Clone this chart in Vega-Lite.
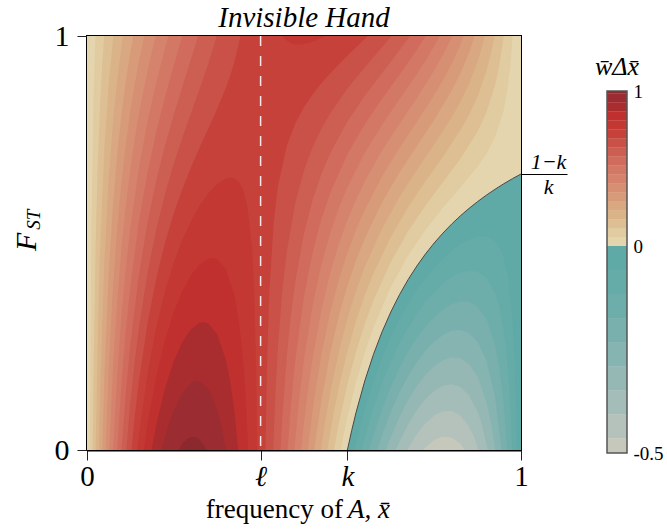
{
  "$schema": "https://vega.github.io/schema/vega-lite/v6.json",
  "padding": {"left": 11, "top": 3, "right": 0, "bottom": 0},
  "background": "white",
  "config": {
    "font": "Liberation Serif",
    "view": {"stroke": null},
    "axis": {"grid": false, "labelFont": "Liberation Serif", "titleFont": "Liberation Serif", "labelColor": "#000", "titleColor": "#000", "titleFontWeight": "normal", "zindex": 1},
    "title": {"font": "Liberation Serif", "fontWeight": "normal", "color": "#000"},
    "text": {"font": "Liberation Serif", "color": "#000"}
  },
  "datasets": {
    "series": [
      {"s":0,"v":0.029},{"s":1,"v":0.087},{"s":2,"v":0.145},{"s":3,"v":0.203},{"s":4,"v":0.261},{"s":5,"v":0.319},{"s":6,"v":0.377},{"s":7,"v":0.435},{"s":8,"v":0.493},{"s":9,"v":0.551},{"s":10,"v":0.609},{"s":11,"v":0.667},{"s":12,"v":0.725},{"s":13,"v":0.783},{"s":14,"v":0.783},{"s":15,"v":0.841},{"s":16,"v":0.899},{"s":17,"v":0.957},{"s":18,"v":0.993},{"s":19,"v":-0.029},{"s":20,"v":-0.087},{"s":21,"v":-0.145},{"s":22,"v":-0.203},{"s":23,"v":-0.261},{"s":24,"v":-0.319},{"s":25,"v":-0.377},{"s":26,"v":-0.435},{"s":27,"v":-0.482}
    ],
    "bands": [
      {"lo":-0.5,"hi":-0.464,"v":-0.482},{"lo":-0.464,"hi":-0.406,"v":-0.435},{"lo":-0.406,"hi":-0.348,"v":-0.377},{"lo":-0.348,"hi":-0.29,"v":-0.319},{"lo":-0.29,"hi":-0.232,"v":-0.261},{"lo":-0.232,"hi":-0.174,"v":-0.203},{"lo":-0.174,"hi":-0.116,"v":-0.145},{"lo":-0.116,"hi":-0.058,"v":-0.087},{"lo":-0.058,"hi":0,"v":-0.029},
      {"lo":0,"hi":0.058,"v":0.029},{"lo":0.058,"hi":0.116,"v":0.087},{"lo":0.116,"hi":0.174,"v":0.145},{"lo":0.174,"hi":0.232,"v":0.203},{"lo":0.232,"hi":0.29,"v":0.261},{"lo":0.29,"hi":0.348,"v":0.319},{"lo":0.348,"hi":0.406,"v":0.377},{"lo":0.406,"hi":0.464,"v":0.435},{"lo":0.464,"hi":0.522,"v":0.493},{"lo":0.522,"hi":0.58,"v":0.551},{"lo":0.58,"hi":0.638,"v":0.609},{"lo":0.638,"hi":0.696,"v":0.667},{"lo":0.696,"hi":0.754,"v":0.725},{"lo":0.754,"hi":0.812,"v":0.783},{"lo":0.812,"hi":0.87,"v":0.841},{"lo":0.87,"hi":0.928,"v":0.899},{"lo":0.928,"hi":0.986,"v":0.957},{"lo":0.986,"hi":1,"v":0.993}
    ],
    "contours": [
      {"s":0,"x":0,"y":0,"y2":1},{"s":0,"x":1,"y":0,"y2":1},

      {"s":1,"x":0.0065,"y":0,"y2":0},{"s":1,"x":0.01,"y":0,"y2":0.5263},{"s":1,"x":0.015,"y":0,"y2":0.8499},{"s":1,"x":0.0194,"y":0,"y2":1},{"s":1,"x":0.5843,"y":0,"y2":1},{"s":1,"x":0.59,"y":0.0302,"y2":1},{"s":1,"x":0.6,"y":0.0794,"y2":1},{"s":1,"x":0.62,"y":0.1644,"y2":1},{"s":1,"x":0.64,"y":0.2355,"y2":1},{"s":1,"x":0.66,"y":0.2961,"y2":1},{"s":1,"x":0.7,"y":0.3938,"y2":1},{"s":1,"x":0.74,"y":0.47,"y2":1},{"s":1,"x":0.78,"y":0.5321,"y2":1},{"s":1,"x":0.82,"y":0.5852,"y2":1},{"s":1,"x":0.86,"y":0.634,"y2":1},{"s":1,"x":0.9,"y":0.6846,"y2":1},{"s":1,"x":0.92,"y":0.7149,"y2":1},{"s":1,"x":0.94,"y":0.7547,"y2":1},{"s":1,"x":0.96,"y":0.82,"y2":1},{"s":1,"x":0.97,"y":0.8788,"y2":1},{"s":1,"x":0.975,"y":0.9239,"y2":1},{"s":1,"x":0.98,"y":0.9902,"y2":1},{"s":1,"x":0.9806,"y":1,"y2":1},

      {"s":2,"x":0.0132,"y":0,"y2":0},{"s":2,"x":0.015,"y":0,"y2":0.1803},{"s":2,"x":0.02,"y":0,"y2":0.5035},{"s":2,"x":0.025,"y":0,"y2":0.6999},{"s":2,"x":0.03,"y":0,"y2":0.833},{"s":2,"x":0.035,"y":0,"y2":0.93},{"s":2,"x":0.0397,"y":0,"y2":1},{"s":2,"x":0.569,"y":0,"y2":1},{"s":2,"x":0.57,"y":0.0064,"y2":1},{"s":2,"x":0.58,"y":0.0626,"y2":1},{"s":2,"x":0.6,"y":0.1587,"y2":1},{"s":2,"x":0.62,"y":0.2379,"y2":1},{"s":2,"x":0.64,"y":0.3044,"y2":1},{"s":2,"x":0.66,"y":0.3613,"y2":1},{"s":2,"x":0.7,"y":0.4542,"y2":1},{"s":2,"x":0.74,"y":0.5282,"y2":1},{"s":2,"x":0.78,"y":0.5905,"y2":1},{"s":2,"x":0.82,"y":0.6467,"y2":1},{"s":2,"x":0.86,"y":0.7028,"y2":1},{"s":2,"x":0.9,"y":0.7693,"y2":1},{"s":2,"x":0.92,"y":0.8144,"y2":1},{"s":2,"x":0.94,"y":0.8798,"y2":1},{"s":2,"x":0.95,"y":0.928,"y2":1},{"s":2,"x":0.9603,"y":1,"y2":1},

      {"s":3,"x":0.0201,"y":0,"y2":0},{"s":3,"x":0.025,"y":0,"y2":0.2832},{"s":3,"x":0.03,"y":0,"y2":0.4793},{"s":3,"x":0.04,"y":0,"y2":0.729},{"s":3,"x":0.05,"y":0,"y2":0.8841},{"s":3,"x":0.06,"y":0,"y2":0.9923},{"s":3,"x":0.0608,"y":0,"y2":1},{"s":3,"x":0.5538,"y":0,"y2":1},{"s":3,"x":0.56,"y":0.0398,"y2":1},{"s":3,"x":0.57,"y":0.0978,"y2":1},{"s":3,"x":0.58,"y":0.1495,"y2":1},{"s":3,"x":0.6,"y":0.2381,"y2":1},{"s":3,"x":0.62,"y":0.3114,"y2":1},{"s":3,"x":0.64,"y":0.3733,"y2":1},{"s":3,"x":0.66,"y":0.4266,"y2":1},{"s":3,"x":0.7,"y":0.5147,"y2":1},{"s":3,"x":0.74,"y":0.5864,"y2":1},{"s":3,"x":0.78,"y":0.6489,"y2":1},{"s":3,"x":0.82,"y":0.7081,"y2":1},{"s":3,"x":0.86,"y":0.7715,"y2":1},{"s":3,"x":0.88,"y":0.8088,"y2":1},{"s":3,"x":0.9,"y":0.8539,"y2":1},{"s":3,"x":0.92,"y":0.914,"y2":1},{"s":3,"x":0.93,"y":0.9538,"y2":1},{"s":3,"x":0.9392,"y":1,"y2":1},

      {"s":4,"x":0.0274,"y":0,"y2":0},{"s":4,"x":0.03,"y":0,"y2":0.1255},{"s":4,"x":0.04,"y":0,"y2":0.4534},{"s":4,"x":0.05,"y":0,"y2":0.655},{"s":4,"x":0.06,"y":0,"y2":0.7937},{"s":4,"x":0.07,"y":0,"y2":0.8969},{"s":4,"x":0.08,"y":0,"y2":0.9781},{"s":4,"x":0.0831,"y":0,"y2":1},{"s":4,"x":0.5387,"y":0,"y2":1},{"s":4,"x":0.54,"y":0.0095,"y2":1},{"s":4,"x":0.55,"y":0.0771,"y2":1},{"s":4,"x":0.56,"y":0.1365,"y2":1},{"s":4,"x":0.58,"y":0.2364,"y2":1},{"s":4,"x":0.6,"y":0.3174,"y2":1},{"s":4,"x":0.62,"y":0.3849,"y2":1},{"s":4,"x":0.64,"y":0.4422,"y2":1},{"s":4,"x":0.68,"y":0.5358,"y2":1},{"s":4,"x":0.72,"y":0.6112,"y2":1},{"s":4,"x":0.76,"y":0.6765,"y2":1},{"s":4,"x":0.8,"y":0.7381,"y2":1},{"s":4,"x":0.84,"y":0.8031,"y2":1},{"s":4,"x":0.86,"y":0.8403,"y2":1},{"s":4,"x":0.88,"y":0.8839,"y2":1},{"s":4,"x":0.9,"y":0.9386,"y2":1},{"s":4,"x":0.91,"y":0.9726,"y2":1},{"s":4,"x":0.9169,"y":1,"y2":1},

      {"s":5,"x":0.035,"y":0,"y2":0},{"s":5,"x":0.04,"y":0,"y2":0.1779},{"s":5,"x":0.05,"y":0,"y2":0.4259},{"s":5,"x":0.06,"y":0,"y2":0.5951},{"s":5,"x":0.07,"y":0,"y2":0.7196},{"s":5,"x":0.08,"y":0,"y2":0.8164},{"s":5,"x":0.09,"y":0,"y2":0.8951},{"s":5,"x":0.1,"y":0,"y2":0.9613},{"s":5,"x":0.1066,"y":0,"y2":1},{"s":5,"x":0.5237,"y":0,"y2":1},{"s":5,"x":0.53,"y":0.0496,"y2":1},{"s":5,"x":0.54,"y":0.1191,"y2":1},{"s":5,"x":0.56,"y":0.2331,"y2":1},{"s":5,"x":0.58,"y":0.3232,"y2":1},{"s":5,"x":0.6,"y":0.3968,"y2":1},{"s":5,"x":0.62,"y":0.4583,"y2":1},{"s":5,"x":0.64,"y":0.5111,"y2":1},{"s":5,"x":0.68,"y":0.5983,"y2":1},{"s":5,"x":0.72,"y":0.6702,"y2":1},{"s":5,"x":0.76,"y":0.7345,"y2":1},{"s":5,"x":0.8,"y":0.7976,"y2":1},{"s":5,"x":0.84,"y":0.8675,"y2":1},{"s":5,"x":0.86,"y":0.9091,"y2":1},{"s":5,"x":0.88,"y":0.959,"y2":1},{"s":5,"x":0.8934,"y":1,"y2":1},

      {"s":6,"x":0.0429,"y":0,"y2":0},{"s":6,"x":0.05,"y":0,"y2":0.1968},{"s":6,"x":0.06,"y":0,"y2":0.3965},{"s":6,"x":0.07,"y":0,"y2":0.5423},{"s":6,"x":0.08,"y":0,"y2":0.6547},{"s":6,"x":0.09,"y":0,"y2":0.745},{"s":6,"x":0.1,"y":0,"y2":0.8202},{"s":6,"x":0.11,"y":0,"y2":0.8847},{"s":6,"x":0.12,"y":0,"y2":0.9414},{"s":6,"x":0.13,"y":0,"y2":0.9924},{"s":6,"x":0.1316,"y":0,"y2":1},{"s":6,"x":0.5086,"y":0,"y2":1},{"s":6,"x":0.52,"y":0.0963,"y2":1},{"s":6,"x":0.53,"y":0.1673,"y2":1},{"s":6,"x":0.54,"y":0.2286,"y2":1},{"s":6,"x":0.56,"y":0.3297,"y2":1},{"s":6,"x":0.58,"y":0.4101,"y2":1},{"s":6,"x":0.6,"y":0.4761,"y2":1},{"s":6,"x":0.62,"y":0.5318,"y2":1},{"s":6,"x":0.64,"y":0.58,"y2":1},{"s":6,"x":0.68,"y":0.6608,"y2":1},{"s":6,"x":0.72,"y":0.7293,"y2":1},{"s":6,"x":0.76,"y":0.7925,"y2":1},{"s":6,"x":0.8,"y":0.8571,"y2":1},{"s":6,"x":0.82,"y":0.8925,"y2":1},{"s":6,"x":0.84,"y":0.9319,"y2":1},{"s":6,"x":0.86,"y":0.9778,"y2":1},{"s":6,"x":0.8684,"y":1,"y2":1},

      {"s":7,"x":0.0512,"y":0,"y2":0},{"s":7,"x":0.06,"y":0,"y2":0.1978},{"s":7,"x":0.07,"y":0,"y2":0.365},{"s":7,"x":0.08,"y":0,"y2":0.4929},{"s":7,"x":0.09,"y":0,"y2":0.595},{"s":7,"x":0.1,"y":0,"y2":0.6792},{"s":7,"x":0.11,"y":0,"y2":0.7505},{"s":7,"x":0.12,"y":0,"y2":0.8126},{"s":7,"x":0.13,"y":0,"y2":0.8676},{"s":7,"x":0.14,"y":0,"y2":0.9175},{"s":7,"x":0.15,"y":0,"y2":0.9635},{"s":7,"x":0.1584,"y":0,"y2":1},{"s":7,"x":0.4933,"y":0,"y2":1},{"s":7,"x":0.5,"y":0.0665,"y2":1},{"s":7,"x":0.51,"y":0.1518,"y2":1},{"s":7,"x":0.52,"y":0.2235,"y2":1},{"s":7,"x":0.54,"y":0.3381,"y2":1},{"s":7,"x":0.56,"y":0.4263,"y2":1},{"s":7,"x":0.58,"y":0.497,"y2":1},{"s":7,"x":0.6,"y":0.5555,"y2":1},{"s":7,"x":0.62,"y":0.6053,"y2":1},{"s":7,"x":0.64,"y":0.6488,"y2":1},{"s":7,"x":0.68,"y":0.7233,"y2":1},{"s":7,"x":0.72,"y":0.7883,"y2":1},{"s":7,"x":0.76,"y":0.8505,"y2":1},{"s":7,"x":0.8,"y":0.9166,"y2":1},{"s":7,"x":0.82,"y":0.9539,"y2":1},{"s":7,"x":0.84,"y":0.9963,"y2":1},{"s":7,"x":0.8416,"y":1,"y2":1},

      {"s":8,"x":0.06,"y":0,"y2":0},{"s":8,"x":0.07,"y":0,"y2":0.1877},{"s":8,"x":0.08,"y":0,"y2":0.3312},{"s":8,"x":0.09,"y":0,"y2":0.445},{"s":8,"x":0.1,"y":0,"y2":0.5381},{"s":8,"x":0.12,"y":0,"y2":0.6837},{"s":8,"x":0.14,"y":0,"y2":0.7958},{"s":8,"x":0.16,"y":0,"y2":0.8887},{"s":8,"x":0.17,"y":0,"y2":0.9306},{"s":8,"x":0.18,"y":0,"y2":0.9707},{"s":8,"x":0.1875,"y":0,"y2":1},{"s":8,"x":0.4779,"y":0,"y2":1},{"s":8,"x":0.48,"y":0.026,"y2":1},{"s":8,"x":0.49,"y":0.1326,"y2":1},{"s":8,"x":0.5,"y":0.2189,"y2":1},{"s":8,"x":0.52,"y":0.3507,"y2":1},{"s":8,"x":0.54,"y":0.4476,"y2":1},{"s":8,"x":0.56,"y":0.5229,"y2":1},{"s":8,"x":0.58,"y":0.5838,"y2":1},{"s":8,"x":0.6,"y":0.6348,"y2":1},{"s":8,"x":0.64,"y":0.7177,"y2":1},{"s":8,"x":0.68,"y":0.7858,"y2":1},{"s":8,"x":0.72,"y":0.8473,"y2":1},{"s":8,"x":0.76,"y":0.9085,"y2":1},{"s":8,"x":0.78,"y":0.941,"y2":1},{"s":8,"x":0.8,"y":0.9761,"y2":1},{"s":8,"x":0.8125,"y":1,"y2":1},

      {"s":9,"x":0.0695,"y":0,"y2":0},{"s":9,"x":0.08,"y":0,"y2":0.1695},{"s":9,"x":0.09,"y":0,"y2":0.295},{"s":9,"x":0.1,"y":0,"y2":0.397},{"s":9,"x":0.12,"y":0,"y2":0.5549},{"s":9,"x":0.14,"y":0,"y2":0.6742},{"s":9,"x":0.16,"y":0,"y2":0.7706},{"s":9,"x":0.18,"y":0,"y2":0.8534},{"s":9,"x":0.2,"y":0,"y2":0.9287},{"s":9,"x":0.21,"y":0,"y2":0.9651},{"s":9,"x":0.2196,"y":0,"y2":1},{"s":9,"x":0.4621,"y":0,"y2":1},{"s":9,"x":0.47,"y":0.1088,"y2":1},{"s":9,"x":0.48,"y":0.2168,"y2":1},{"s":9,"x":0.5,"y":0.3712,"y2":1},{"s":9,"x":0.52,"y":0.4778,"y2":1},{"s":9,"x":0.54,"y":0.5572,"y2":1},{"s":9,"x":0.56,"y":0.6195,"y2":1},{"s":9,"x":0.6,"y":0.7142,"y2":1},{"s":9,"x":0.64,"y":0.7866,"y2":1},{"s":9,"x":0.68,"y":0.8483,"y2":1},{"s":9,"x":0.72,"y":0.9064,"y2":1},{"s":9,"x":0.74,"y":0.9358,"y2":1},{"s":9,"x":0.76,"y":0.9665,"y2":1},{"s":9,"x":0.78,"y":0.9994,"y2":1},{"s":9,"x":0.7804,"y":1,"y2":1},

      {"s":10,"x":0.0795,"y":0,"y2":0},{"s":10,"x":0.08,"y":0,"y2":0.0078},{"s":10,"x":0.09,"y":0,"y2":0.1449},{"s":10,"x":0.1,"y":0,"y2":0.256},{"s":10,"x":0.12,"y":0,"y2":0.4261},{"s":10,"x":0.14,"y":0,"y2":0.5525},{"s":10,"x":0.16,"y":0,"y2":0.6525},{"s":10,"x":0.18,"y":0,"y2":0.7361},{"s":10,"x":0.2,"y":0,"y2":0.8097},{"s":10,"x":0.22,"y":0,"y2":0.878},{"s":10,"x":0.24,"y":0,"y2":0.9449},{"s":10,"x":0.25,"y":0,"y2":0.9791},{"s":10,"x":0.256,"y":0,"y2":1},{"s":10,"x":0.4458,"y":0,"y2":1},{"s":10,"x":0.45,"y":0.0779,"y2":1},{"s":10,"x":0.46,"y":0.2223,"y2":1},{"s":10,"x":0.47,"y":0.3273,"y2":1},{"s":10,"x":0.48,"y":0.4075,"y2":1},{"s":10,"x":0.5,"y":0.5236,"y2":1},{"s":10,"x":0.52,"y":0.605,"y2":1},{"s":10,"x":0.54,"y":0.6667,"y2":1},{"s":10,"x":0.56,"y":0.7162,"y2":1},{"s":10,"x":0.6,"y":0.7935,"y2":1},{"s":10,"x":0.64,"y":0.8555,"y2":1},{"s":10,"x":0.68,"y":0.9109,"y2":1},{"s":10,"x":0.7,"y":0.9379,"y2":1},{"s":10,"x":0.72,"y":0.9654,"y2":1},{"s":10,"x":0.74,"y":0.994,"y2":1},{"s":10,"x":0.744,"y":1,"y2":1},

      {"s":11,"x":0.0904,"y":0,"y2":0},{"s":11,"x":0.1,"y":0,"y2":0.1149},{"s":11,"x":0.11,"y":0,"y2":0.2139},{"s":11,"x":0.12,"y":0,"y2":0.2973},{"s":11,"x":0.14,"y":0,"y2":0.4308},{"s":11,"x":0.16,"y":0,"y2":0.5344},{"s":11,"x":0.18,"y":0,"y2":0.6188},{"s":11,"x":0.2,"y":0,"y2":0.6907},{"s":11,"x":0.22,"y":0,"y2":0.7547},{"s":11,"x":0.24,"y":0,"y2":0.8143},{"s":11,"x":0.26,"y":0,"y2":0.8731},{"s":11,"x":0.28,"y":0,"y2":0.9348},{"s":11,"x":0.29,"y":0,"y2":0.9683},{"s":11,"x":0.2987,"y":0,"y2":1},{"s":11,"x":0.4289,"y":0,"y2":1},{"s":11,"x":0.435,"y":0.1564,"y2":1},{"s":11,"x":0.44,"y":0.251,"y2":1},{"s":11,"x":0.45,"y":0.3857,"y2":1},{"s":11,"x":0.46,"y":0.4779,"y2":1},{"s":11,"x":0.48,"y":0.5983,"y2":1},{"s":11,"x":0.5,"y":0.6759,"y2":1},{"s":11,"x":0.52,"y":0.7322,"y2":1},{"s":11,"x":0.54,"y":0.7762,"y2":1},{"s":11,"x":0.56,"y":0.8128,"y2":1},{"s":11,"x":0.6,"y":0.8729,"y2":1},{"s":11,"x":0.64,"y":0.9244,"y2":1},{"s":11,"x":0.68,"y":0.9734,"y2":1},{"s":11,"x":0.7,"y":0.9984,"y2":1},{"s":11,"x":0.7013,"y":1,"y2":1},

      {"s":12,"x":0.1024,"y":0,"y2":0},{"s":12,"x":0.11,"y":0,"y2":0.0797},{"s":12,"x":0.12,"y":0,"y2":0.1685},{"s":12,"x":0.14,"y":0,"y2":0.3091},{"s":12,"x":0.16,"y":0,"y2":0.4163},{"s":12,"x":0.18,"y":0,"y2":0.5015},{"s":12,"x":0.2,"y":0,"y2":0.5717},{"s":12,"x":0.22,"y":0,"y2":0.6313},{"s":12,"x":0.24,"y":0,"y2":0.6838},{"s":12,"x":0.26,"y":0,"y2":0.7317},{"s":12,"x":0.28,"y":0,"y2":0.7773},{"s":12,"x":0.3,"y":0,"y2":0.8235},{"s":12,"x":0.32,"y":0,"y2":0.8744},{"s":12,"x":0.33,"y":0,"y2":0.9039},{"s":12,"x":0.34,"y":0,"y2":0.9386},{"s":12,"x":0.35,"y":0,"y2":0.9818},{"s":12,"x":0.3535,"y":0,"y2":1},{"s":12,"x":0.4112,"y":0,"y2":1},{"s":12,"x":0.415,"y":0.218,"y2":1},{"s":12,"x":0.42,"y":0.3816,"y2":1},{"s":12,"x":0.43,"y":0.5494,"y2":1},{"s":12,"x":0.44,"y":0.6375,"y2":1},{"s":12,"x":0.46,"y":0.7334,"y2":1},{"s":12,"x":0.48,"y":0.789,"y2":1},{"s":12,"x":0.5,"y":0.8283,"y2":1},{"s":12,"x":0.52,"y":0.8593,"y2":1},{"s":12,"x":0.54,"y":0.8858,"y2":1},{"s":12,"x":0.56,"y":0.9094,"y2":1},{"s":12,"x":0.58,"y":0.9313,"y2":1},{"s":12,"x":0.6,"y":0.9522,"y2":1},{"s":12,"x":0.62,"y":0.9727,"y2":1},{"s":12,"x":0.64,"y":0.9933,"y2":1},{"s":12,"x":0.6465,"y":1,"y2":1},

      {"s":13,"x":0.1157,"y":0,"y2":0},{"s":13,"x":0.12,"y":0,"y2":0.0396},{"s":13,"x":0.14,"y":0,"y2":0.1875},{"s":13,"x":0.16,"y":0,"y2":0.2982},{"s":13,"x":0.18,"y":0,"y2":0.3842},{"s":13,"x":0.2,"y":0,"y2":0.4526},{"s":13,"x":0.22,"y":0,"y2":0.508},{"s":13,"x":0.24,"y":0,"y2":0.5533},{"s":13,"x":0.26,"y":0,"y2":0.5903},{"s":13,"x":0.28,"y":0,"y2":0.6199},{"s":13,"x":0.3,"y":0,"y2":0.6421},{"s":13,"x":0.32,"y":0,"y2":0.6556},{"s":13,"x":0.33,"y":0,"y2":0.6578},{"s":13,"x":0.34,"y":0,"y2":0.6557},{"s":13,"x":0.35,"y":0,"y2":0.6469},{"s":13,"x":0.36,"y":0,"y2":0.6272},{"s":13,"x":0.37,"y":0,"y2":0.5859},{"s":13,"x":0.38,"y":0,"y2":0.4915},{"s":13,"x":0.385,"y":0,"y2":0.3916},{"s":13,"x":0.39,"y":0,"y2":0.1862},{"s":13,"x":0.3923,"y":0,"y2":0},

      {"s":14,"x":0.4508,"y":1,"y2":1},{"s":14,"x":0.455,"y":0.9942,"y2":1},{"s":14,"x":0.46,"y":0.989,"y2":1},{"s":14,"x":0.47,"y":0.9826,"y2":1},{"s":14,"x":0.48,"y":0.9798,"y2":1},{"s":14,"x":0.49,"y":0.9794,"y2":1},{"s":14,"x":0.5,"y":0.9807,"y2":1},{"s":14,"x":0.51,"y":0.9831,"y2":1},{"s":14,"x":0.52,"y":0.9865,"y2":1},{"s":14,"x":0.53,"y":0.9906,"y2":1},{"s":14,"x":0.54,"y":0.9953,"y2":1},{"s":14,"x":0.5492,"y":1,"y2":1},

      {"s":15,"x":0.1308,"y":0,"y2":0},{"s":15,"x":0.14,"y":0,"y2":0.0658},{"s":15,"x":0.16,"y":0,"y2":0.1802},{"s":15,"x":0.18,"y":0,"y2":0.2669},{"s":15,"x":0.2,"y":0,"y2":0.3336},{"s":15,"x":0.22,"y":0,"y2":0.3847},{"s":15,"x":0.24,"y":0,"y2":0.4228},{"s":15,"x":0.26,"y":0,"y2":0.4489},{"s":15,"x":0.28,"y":0,"y2":0.4624},{"s":15,"x":0.29,"y":0,"y2":0.4638},{"s":15,"x":0.3,"y":0,"y2":0.4607},{"s":15,"x":0.32,"y":0,"y2":0.4368},{"s":15,"x":0.34,"y":0,"y2":0.3728},{"s":15,"x":0.35,"y":0,"y2":0.3121},{"s":15,"x":0.36,"y":0,"y2":0.2139},{"s":15,"x":0.365,"y":0,"y2":0.1408},{"s":15,"x":0.3717,"y":0,"y2":0},

      {"s":16,"x":0.1488,"y":0,"y2":0},{"s":16,"x":0.16,"y":0,"y2":0.0621},{"s":16,"x":0.18,"y":0,"y2":0.1496},{"s":16,"x":0.2,"y":0,"y2":0.2146},{"s":16,"x":0.22,"y":0,"y2":0.2614},{"s":16,"x":0.24,"y":0,"y2":0.2923},{"s":16,"x":0.26,"y":0,"y2":0.3075},{"s":16,"x":0.27,"y":0,"y2":0.3087},{"s":16,"x":0.28,"y":0,"y2":0.305},{"s":16,"x":0.3,"y":0,"y2":0.2793},{"s":16,"x":0.32,"y":0,"y2":0.218},{"s":16,"x":0.33,"y":0,"y2":0.1656},{"s":16,"x":0.34,"y":0,"y2":0.0899},{"s":16,"x":0.3482,"y":0,"y2":0},

      {"s":17,"x":0.1718,"y":0,"y2":0},{"s":17,"x":0.18,"y":0,"y2":0.0323},{"s":17,"x":0.19,"y":0,"y2":0.0667},{"s":17,"x":0.2,"y":0,"y2":0.0955},{"s":17,"x":0.22,"y":0,"y2":0.1381},{"s":17,"x":0.24,"y":0,"y2":0.1618},{"s":17,"x":0.25,"y":0,"y2":0.1665},{"s":17,"x":0.26,"y":0,"y2":0.1661},{"s":17,"x":0.28,"y":0,"y2":0.1475},{"s":17,"x":0.3,"y":0,"y2":0.098},{"s":17,"x":0.31,"y":0,"y2":0.0565},{"s":17,"x":0.3199,"y":0,"y2":0},

      {"s":18,"x":0.211,"y":0,"y2":0},{"s":18,"x":0.22,"y":0,"y2":0.0148},{"s":18,"x":0.23,"y":0,"y2":0.0258},{"s":18,"x":0.24,"y":0,"y2":0.0313},{"s":18,"x":0.25,"y":0,"y2":0.0311},{"s":18,"x":0.26,"y":0,"y2":0.0247},{"s":18,"x":0.27,"y":0,"y2":0.0114},{"s":18,"x":0.2754,"y":0,"y2":0},

      {"s":19,"x":0.6,"y":0,"y2":0},{"s":19,"x":0.61,"y":0,"y2":0.0476},{"s":19,"x":0.62,"y":0,"y2":0.0909},{"s":19,"x":0.64,"y":0,"y2":0.1667},{"s":19,"x":0.66,"y":0,"y2":0.2308},{"s":19,"x":0.68,"y":0,"y2":0.2857},{"s":19,"x":0.7,"y":0,"y2":0.3333},{"s":19,"x":0.72,"y":0,"y2":0.375},{"s":19,"x":0.74,"y":0,"y2":0.4118},{"s":19,"x":0.76,"y":0,"y2":0.4444},{"s":19,"x":0.78,"y":0,"y2":0.4737},{"s":19,"x":0.8,"y":0,"y2":0.5},{"s":19,"x":0.82,"y":0,"y2":0.5238},{"s":19,"x":0.84,"y":0,"y2":0.5455},{"s":19,"x":0.86,"y":0,"y2":0.5652},{"s":19,"x":0.88,"y":0,"y2":0.5833},{"s":19,"x":0.9,"y":0,"y2":0.6},{"s":19,"x":0.92,"y":0,"y2":0.6154},{"s":19,"x":0.94,"y":0,"y2":0.6296},{"s":19,"x":0.96,"y":0,"y2":0.6429},{"s":19,"x":0.98,"y":0,"y2":0.6552},{"s":19,"x":1,"y":0,"y2":0.6667},

      {"s":20,"x":0.6161,"y":0,"y2":0},{"s":20,"x":0.62,"y":0,"y2":0.0174},{"s":20,"x":0.64,"y":0,"y2":0.0978},{"s":20,"x":0.66,"y":0,"y2":0.1655},{"s":20,"x":0.68,"y":0,"y2":0.2232},{"s":20,"x":0.7,"y":0,"y2":0.2729},{"s":20,"x":0.72,"y":0,"y2":0.316},{"s":20,"x":0.74,"y":0,"y2":0.3535},{"s":20,"x":0.76,"y":0,"y2":0.3864},{"s":20,"x":0.78,"y":0,"y2":0.4153},{"s":20,"x":0.8,"y":0,"y2":0.4405},{"s":20,"x":0.82,"y":0,"y2":0.4624},{"s":20,"x":0.84,"y":0,"y2":0.481},{"s":20,"x":0.86,"y":0,"y2":0.4964},{"s":20,"x":0.88,"y":0,"y2":0.5082},{"s":20,"x":0.9,"y":0,"y2":0.5154},{"s":20,"x":0.92,"y":0,"y2":0.5159},{"s":20,"x":0.94,"y":0,"y2":0.5046},{"s":20,"x":0.95,"y":0,"y2":0.4906},{"s":20,"x":0.96,"y":0,"y2":0.4657},{"s":20,"x":0.97,"y":0,"y2":0.4195},{"s":20,"x":0.98,"y":0,"y2":0.3201},{"s":20,"x":0.985,"y":0,"y2":0.2174},{"s":20,"x":0.988,"y":0,"y2":0.1135},{"s":20,"x":0.9901,"y":0,"y2":0},

      {"s":21,"x":0.6328,"y":0,"y2":0},{"s":21,"x":0.64,"y":0,"y2":0.0289},{"s":21,"x":0.66,"y":0,"y2":0.1002},{"s":21,"x":0.68,"y":0,"y2":0.1607},{"s":21,"x":0.7,"y":0,"y2":0.2124},{"s":21,"x":0.72,"y":0,"y2":0.2569},{"s":21,"x":0.74,"y":0,"y2":0.2953},{"s":21,"x":0.76,"y":0,"y2":0.3284},{"s":21,"x":0.78,"y":0,"y2":0.3569},{"s":21,"x":0.8,"y":0,"y2":0.381},{"s":21,"x":0.82,"y":0,"y2":0.4009},{"s":21,"x":0.84,"y":0,"y2":0.4166},{"s":21,"x":0.86,"y":0,"y2":0.4277},{"s":21,"x":0.88,"y":0,"y2":0.433},{"s":21,"x":0.9,"y":0,"y2":0.4307},{"s":21,"x":0.92,"y":0,"y2":0.4163},{"s":21,"x":0.94,"y":0,"y2":0.3795},{"s":21,"x":0.95,"y":0,"y2":0.3448},{"s":21,"x":0.96,"y":0,"y2":0.2886},{"s":21,"x":0.97,"y":0,"y2":0.1899},{"s":21,"x":0.975,"y":0,"y2":0.1087},{"s":21,"x":0.9795,"y":0,"y2":0},

      {"s":22,"x":0.6503,"y":0,"y2":0},{"s":22,"x":0.66,"y":0,"y2":0.0349},{"s":22,"x":0.68,"y":0,"y2":0.0982},{"s":22,"x":0.7,"y":0,"y2":0.152},{"s":22,"x":0.72,"y":0,"y2":0.1979},{"s":22,"x":0.74,"y":0,"y2":0.2371},{"s":22,"x":0.76,"y":0,"y2":0.2704},{"s":22,"x":0.78,"y":0,"y2":0.2985},{"s":22,"x":0.8,"y":0,"y2":0.3215},{"s":22,"x":0.82,"y":0,"y2":0.3395},{"s":22,"x":0.84,"y":0,"y2":0.3522},{"s":22,"x":0.86,"y":0,"y2":0.3589},{"s":22,"x":0.88,"y":0,"y2":0.3579},{"s":22,"x":0.9,"y":0,"y2":0.3461},{"s":22,"x":0.92,"y":0,"y2":0.3168},{"s":22,"x":0.94,"y":0,"y2":0.2544},{"s":22,"x":0.95,"y":0,"y2":0.199},{"s":22,"x":0.96,"y":0,"y2":0.1115},{"s":22,"x":0.9679,"y":0,"y2":0},

      {"s":23,"x":0.6688,"y":0,"y2":0},{"s":23,"x":0.68,"y":0,"y2":0.0357},{"s":23,"x":0.7,"y":0,"y2":0.0915},{"s":23,"x":0.72,"y":0,"y2":0.1388},{"s":23,"x":0.74,"y":0,"y2":0.1789},{"s":23,"x":0.76,"y":0,"y2":0.2124},{"s":23,"x":0.78,"y":0,"y2":0.24},{"s":23,"x":0.8,"y":0,"y2":0.2619},{"s":23,"x":0.82,"y":0,"y2":0.278},{"s":23,"x":0.84,"y":0,"y2":0.2878},{"s":23,"x":0.86,"y":0,"y2":0.2901},{"s":23,"x":0.88,"y":0,"y2":0.2828},{"s":23,"x":0.9,"y":0,"y2":0.2614},{"s":23,"x":0.92,"y":0,"y2":0.2173},{"s":23,"x":0.94,"y":0,"y2":0.1294},{"s":23,"x":0.955,"y":0,"y2":0},

      {"s":24,"x":0.6889,"y":0,"y2":0},{"s":24,"x":0.7,"y":0,"y2":0.031},{"s":24,"x":0.72,"y":0,"y2":0.0798},{"s":24,"x":0.74,"y":0,"y2":0.1206},{"s":24,"x":0.76,"y":0,"y2":0.1544},{"s":24,"x":0.78,"y":0,"y2":0.1816},{"s":24,"x":0.8,"y":0,"y2":0.2024},{"s":24,"x":0.82,"y":0,"y2":0.2166},{"s":24,"x":0.84,"y":0,"y2":0.2234},{"s":24,"x":0.86,"y":0,"y2":0.2214},{"s":24,"x":0.88,"y":0,"y2":0.2076},{"s":24,"x":0.9,"y":0,"y2":0.1768},{"s":24,"x":0.92,"y":0,"y2":0.1178},{"s":24,"x":0.93,"y":0,"y2":0.0707},{"s":24,"x":0.9405,"y":0,"y2":0},

      {"s":25,"x":0.7113,"y":0,"y2":0},{"s":25,"x":0.72,"y":0,"y2":0.0207},{"s":25,"x":0.74,"y":0,"y2":0.0624},{"s":25,"x":0.76,"y":0,"y2":0.0964},{"s":25,"x":0.78,"y":0,"y2":0.1232},{"s":25,"x":0.8,"y":0,"y2":0.1429},{"s":25,"x":0.82,"y":0,"y2":0.1552},{"s":25,"x":0.84,"y":0,"y2":0.159},{"s":25,"x":0.86,"y":0,"y2":0.1526},{"s":25,"x":0.88,"y":0,"y2":0.1325},{"s":25,"x":0.9,"y":0,"y2":0.0921},{"s":25,"x":0.91,"y":0,"y2":0.0607},{"s":25,"x":0.9234,"y":0,"y2":0},

      {"s":26,"x":0.7379,"y":0,"y2":0},{"s":26,"x":0.74,"y":0,"y2":0.0042},{"s":26,"x":0.76,"y":0,"y2":0.0384},{"s":26,"x":0.78,"y":0,"y2":0.0648},{"s":26,"x":0.8,"y":0,"y2":0.0834},{"s":26,"x":0.82,"y":0,"y2":0.0937},{"s":26,"x":0.84,"y":0,"y2":0.0946},{"s":26,"x":0.86,"y":0,"y2":0.0838},{"s":26,"x":0.88,"y":0,"y2":0.0573},{"s":26,"x":0.89,"y":0,"y2":0.036},{"s":26,"x":0.9021,"y":0,"y2":0},

      {"s":27,"x":0.7747,"y":0,"y2":0},{"s":27,"x":0.78,"y":0,"y2":0.0064},{"s":27,"x":0.8,"y":0,"y2":0.0239},{"s":27,"x":0.82,"y":0,"y2":0.0323},{"s":27,"x":0.84,"y":0,"y2":0.0302},{"s":27,"x":0.86,"y":0,"y2":0.015},{"s":27,"x":0.8707,"y":0,"y2":0}
    ]
  },
  "hconcat": [
    {
      "width": 434,
      "height": 414,
      "title": {"text": "Invisible Hand", "fontStyle": "italic", "fontSize": 29, "offset": -12},
      "view": {"stroke": "#000", "strokeWidth": 2},
      "layer": [
        {
          "data": {"name": "contours"},
          "transform": [{"lookup": "s", "from": {"data": {"name": "series"}, "key": "s", "fields": ["v"]}}],
          "mark": {"type": "area", "interpolate": "linear"},
          "encoding": {
            "x": {"field": "x", "type": "quantitative", "scale": {"domain": [0, 1], "nice": false, "zero": false},
              "axis": {"values": [0, 0.4, 0.6, 1], "format": "~g", "labelExpr": "datum.value == 0.4 ? 'ℓ' : datum.value == 0.6 ? 'k' : datum.label",
                "labelFontStyle": {"condition": {"test": "datum.value == 0.4 || datum.value == 0.6", "value": "italic"}, "value": "normal"},
                "labelFontSize": 29, "labelPadding": 2, "labelFlush": false, "tickSize": 10, "tickColor": "#222", "domainColor": "#000", "domainWidth": 2,
                "title": null}},
            "y": {"field": "y", "type": "quantitative", "stack": null, "scale": {"domain": [0, 1], "nice": false, "zero": false},
              "axis": {"orient": "left", "values": [0, 1], "format": "~g", "labelFontSize": 30, "labelPadding": 8, "labelFlush": false, "tickSize": 10, "tickColor": "#222", "domainColor": "#000", "title": null}},
            "y2": {"field": "y2"},
            "detail": {"field": "s"},
            "color": {"field": "v", "type": "quantitative", "legend": null,
              "scale": {"type": "threshold",
                "domain": [-0.464, -0.406, -0.348, -0.29, -0.232, -0.174, -0.116, -0.058, 0, 0.058, 0.116, 0.174, 0.232, 0.29, 0.348, 0.406, 0.464, 0.522, 0.58, 0.638, 0.696, 0.754, 0.812, 0.87, 0.928, 0.986],
                "range": ["#c6c8bc", "#b4c2bb", "#a4bdb9", "#95b8b5", "#86b4b1", "#79b0ad", "#6daeaa", "#65aca8", "#5fa9a6", "#e4d5ae", "#e1cba1", "#ddbf93", "#dab389", "#d9a781", "#d89b7a", "#d68f73", "#d5836c", "#d37865", "#d06b5d", "#cd5e52", "#c95147", "#c5413a", "#c33833", "#c0302e", "#a92c2e", "#9b2d32", "#8b292e"]}}
          }
        },
        {
          "data": {"name": "contours"},
          "transform": [{"filter": "datum.s == 19"}],
          "mark": {"type": "line", "color": "#4a4a4a", "strokeWidth": 1},
          "encoding": {
            "x": {"field": "x", "type": "quantitative", "scale": {"domain": [0, 1], "nice": false, "zero": false}},
            "y": {"field": "y2", "type": "quantitative", "scale": {"domain": [0, 1], "nice": false, "zero": false},
              "axis": {"orient": "right", "values": [0.6667], "tickSize": 46, "tickColor": "#000", "domain": false, "title": null,
                "labelExpr": "['1−k', 'k']", "labelAlign": "center", "labelBaseline": "middle", "labelPadding": -19, "labelOffset": -12,
                "labelFontSize": 22, "labelFontStyle": "italic", "labelLineHeight": 25, "labelFlush": false, "labelOverlap": false}}
          }
        },
        {
          "data": {"values": [{}]},
          "mark": {"type": "rule", "color": "#ffffff", "strokeDash": [10, 10], "strokeWidth": 1.5, "opacity": 0.9},
          "encoding": {
            "x": {"datum": 0.4, "type": "quantitative", "scale": {"domain": [0, 1], "nice": false, "zero": false}},
            "y": {"datum": 1, "type": "quantitative", "scale": {"domain": [0, 1], "nice": false, "zero": false}, "axis": null},
            "y2": {"datum": 0}
          }
        },
        {
          "data": {"values": [{}]},
          "mark": {"type": "text", "angle": 270, "fontStyle": "italic", "fontSize": 30, "align": "center", "baseline": "alphabetic"},
          "encoding": {
            "x": {"datum": -0.1175, "type": "quantitative", "scale": {"domain": [0, 1], "nice": false, "zero": false}},
            "y": {"datum": 0.503, "type": "quantitative", "scale": {"domain": [0, 1], "nice": false, "zero": false}, "axis": null},
            "text": {"value": "F"}
          }
        },
        {
          "data": {"values": [{}]},
          "mark": {"type": "text", "angle": 270, "fontStyle": "italic", "fontSize": 19, "align": "center", "baseline": "alphabetic"},
          "encoding": {
            "x": {"datum": -0.108, "type": "quantitative", "scale": {"domain": [0, 1], "nice": false, "zero": false}},
            "y": {"datum": 0.556, "type": "quantitative", "scale": {"domain": [0, 1], "nice": false, "zero": false}, "axis": null},
            "text": {"value": "ST"}
          }
        },
        {
          "data": {"values": [{}]},
          "mark": {"type": "text", "fontSize": 27, "align": "right", "baseline": "alphabetic"},
          "encoding": {
            "x": {"datum": 0.59, "type": "quantitative", "scale": {"domain": [0, 1], "nice": false, "zero": false}},
            "y": {"datum": -0.165, "type": "quantitative", "scale": {"domain": [0, 1], "nice": false, "zero": false}, "axis": null},
            "text": {"value": "frequency of"}
          }
        },
        {
          "data": {"values": [{}]},
          "mark": {"type": "text", "fontSize": 27, "fontStyle": "italic", "align": "left", "baseline": "alphabetic"},
          "encoding": {
            "x": {"datum": 0.6014, "type": "quantitative", "scale": {"domain": [0, 1], "nice": false, "zero": false}},
            "y": {"datum": -0.165, "type": "quantitative", "scale": {"domain": [0, 1], "nice": false, "zero": false}, "axis": null},
            "text": {"value": "A, x̄"}
          }
        }
      ],
      "resolve": {"axis": {"y": "independent"}}
    },
    {
      "width": 20,
      "height": 417,
      "layer": [
        {
          "data": {"name": "bands"},
          "mark": {"type": "rect"},
          "encoding": {
            "y": {"field": "lo", "type": "quantitative", "scale": {"domain": [-0.5, 0, 1], "range": [417, 210, 55], "nice": false, "zero": false},
              "axis": {"orient": "right", "values": [-0.5, 0, 1], "format": "~g", "ticks": false, "domain": false, "title": null, "labelFontSize": 19, "labelPadding": 6, "labelFlush": false,
                "labelExpr": "datum.value == -0.5 ? '-0.5' : datum.label"}},
            "y2": {"field": "hi"},
            "color": {"field": "v", "type": "quantitative", "legend": null,
              "scale": {"type": "threshold",
                "domain": [-0.464, -0.406, -0.348, -0.29, -0.232, -0.174, -0.116, -0.058, 0, 0.058, 0.116, 0.174, 0.232, 0.29, 0.348, 0.406, 0.464, 0.522, 0.58, 0.638, 0.696, 0.754, 0.812, 0.87, 0.928, 0.986],
                "range": ["#c6c8bc", "#b4c2bb", "#a4bdb9", "#95b8b5", "#86b4b1", "#79b0ad", "#6daeaa", "#65aca8", "#5fa9a6", "#e4d5ae", "#e1cba1", "#ddbf93", "#dab389", "#d9a781", "#d89b7a", "#d68f73", "#d5836c", "#d37865", "#d06b5d", "#cd5e52", "#c95147", "#c5413a", "#c33833", "#c0302e", "#a92c2e", "#9b2d32", "#8b292e"]}}
          }
        },
        {
          "data": {"values": [{}]},
          "mark": {"type": "rect", "fillOpacity": 0, "stroke": "#555", "strokeWidth": 1.5},
          "encoding": {
            "y": {"datum": -0.5, "type": "quantitative", "scale": {"domain": [-0.5, 0, 1], "range": [417, 210, 55], "nice": false, "zero": false}, "axis": null},
            "y2": {"datum": 1}
          }
        },
        {
          "data": {"values": [{}]},
          "mark": {"type": "text", "fontSize": 26, "fontStyle": "italic", "align": "center", "baseline": "alphabetic", "dy": -16},
          "encoding": {
            "y": {"datum": 1, "type": "quantitative", "scale": {"domain": [-0.5, 0, 1], "range": [417, 210, 55], "nice": false, "zero": false}, "axis": null},
            "text": {"value": "w̄Δx̄"}
          }
        }
      ],
      "resolve": {"axis": {"y": "independent"}}
    }
  ],
  "bounds": "flush",
  "spacing": 86
}
